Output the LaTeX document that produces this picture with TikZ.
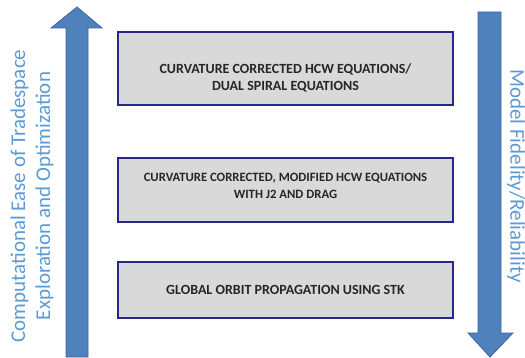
\documentclass[tikz,border=0pt]{standalone}
\usepackage{fontspec}
\setmainfont{Carlito}
\usepackage{tikz}

\definecolor{arrowblue}{RGB}{79,129,189}
\definecolor{arrowedge}{RGB}{60,100,160}
\definecolor{labelblue}{RGB}{91,155,213}
\definecolor{boxedge}{RGB}{40,40,140}
\definecolor{boxfill}{RGB}{217,217,217}

\tikzset{
  modelbox/.style={draw=boxedge, line width=1.6pt, fill=boxfill, minimum width=335pt},
  modeltext/.style={align=center, font=\bfseries\fontsize{14}{17}\selectfont, text=black!85},
  sidelabel/.style={text=labelblue, align=center, font=\fontsize{21}{25}\selectfont}
}

\begin{document}
\begin{tikzpicture}[x=1pt, y=-1pt]
            \useasboundingbox (0,0) rectangle (525,358);

            % left arrow, pointing up
            \draw[fill=arrowblue, draw=arrowedge, line width=0.8pt]
                (66,357) -- (66,28) -- (51,28) -- (77,7) coordinate(tipL)
                -- (102,28) -- (88,28) -- (88,357) -- cycle;
            \node[sidelabel, rotate=90] (ease) at (32,196)
                {Computational Ease of Tradespace\\Exploration and Optimization};

            % right arrow, pointing down
            \draw[fill=arrowblue, draw=arrowedge, line width=0.8pt]
                (478,12) -- (478,333) -- (468,333) -- (490,357) coordinate(tipR)
                -- (513,333) -- (501,333) -- (501,12) -- cycle;
            \node[sidelabel, rotate=-90] (fidelity) at (516,176) {Model Fidelity/Reliability};

            \node[modelbox, minimum height=73pt] (dual) at (285.5,68.5) {};
            \node[modeltext] (dualtxt) at (285.5,78)
                {CURVATURE CORRECTED HCW EQUATIONS/\\DUAL SPIRAL EQUATIONS};

            \node[modelbox, minimum height=64pt] (hcw) at (285.5,190) {};
            \node[modeltext, font=\bfseries\fontsize{12.7}{17}\selectfont] (hcwtxt) at (285.5,186)
                {CURVATURE CORRECTED, MODIFIED HCW EQUATIONS\\WITH J2 AND DRAG};

            \node[modelbox, minimum height=56pt] (stk) at (285.5,290) {};
            \node[modeltext] (stktxt) at (285.5,290) {GLOBAL ORBIT PROPAGATION USING STK};

        \end{tikzpicture}
\end{document}
